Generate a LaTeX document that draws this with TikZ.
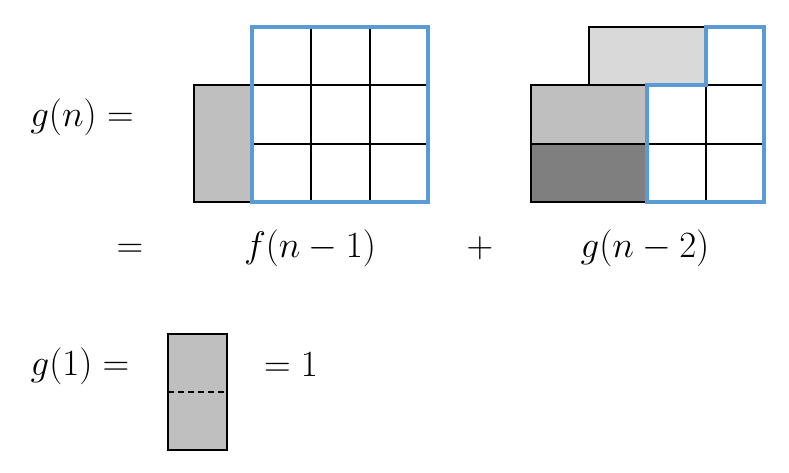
\RequirePackage{fix-cm}
\documentclass[tikz,border=0pt]{standalone}
\definecolor{cellblue}{HTML}{5B9BD5}
\definecolor{gmid}{HTML}{BFBFBF}
\definecolor{glight}{HTML}{D9D9D9}
\definecolor{gdark}{HTML}{7F7F7F}
\begin{document}
\begin{tikzpicture}[x=1pt,y=-1pt,
  cell/.style={draw=black,line width=1.5pt},
  blueline/.style={draw=cellblue,line width=3.6pt,line join=miter},
  eq/.style={anchor=base,inner sep=0pt,font=\fontsize{37}{44}\selectfont}]
\useasboundingbox (0,0) rectangle (789,473);
% left grid
\draw[cell,fill=gmid] (194,85) rectangle (252,202);
\draw[cell] (311,27) -- (311,202) (370,27) -- (370,202) (252,85) -- (428,85) (252,144) -- (428,144);
\draw[blueline] (252,27) rectangle (428,202);
% right grid
\draw[cell,fill=glight] (589,27) rectangle (706,85);
\draw[cell,fill=gmid] (531,85) rectangle (647,144);
\draw[cell,fill=gdark] (531,144) rectangle (647,202);
\draw[cell] (706,27) -- (706,202) (647,144) -- (764,144) (647,85) -- (764,85);
\draw[blueline] (647,202) -- (647,85) -- (706,85) -- (706,27) -- (764,27) -- (764,202) -- cycle;
% bottom box
\draw[cell,fill=gmid] (168,334) rectangle (227,450);
\draw[line width=1.5pt,dash pattern=on 6pt off 4pt] (168,392) -- (227,392);
% texts
\node[eq] (gn) at (82,127) {$g(n) =$};
\node[eq] (eq2) at (130,257) {$=$};
\node[eq] (fn) at (310,257) {$f(n-1)$};
\node[eq] (plus) at (480,257) {$+$};
\node[eq] (gn2) at (645,257) {$g(n-2)$};
\node[eq] (g1) at (80,375) {$g(1) =$};
\node[eq] (one) at (291,376) {$= 1$};
\end{tikzpicture}
\end{document}
